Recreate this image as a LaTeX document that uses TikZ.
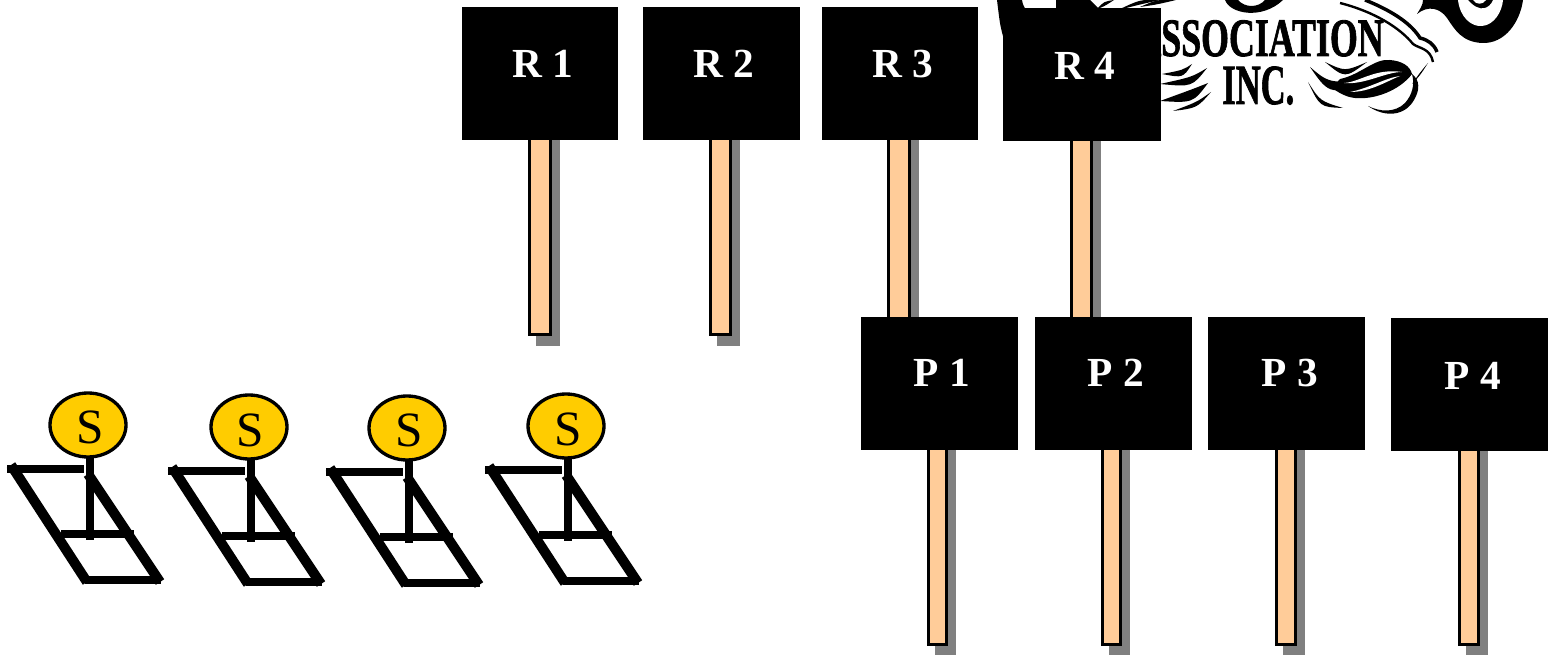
\documentclass[tikz,border=0pt]{standalone}
\usepackage{fontspec}
\setmainfont{Liberation Serif}
\newfontfamily\logofont[FakeBold=1.6]{Liberation Serif Bold}
\usetikzlibrary{shapes.geometric,calc}
\definecolor{stickfill}{HTML}{FFCC99}
\definecolor{sunfill}{HTML}{FFCC00}
\definecolor{shadowgray}{HTML}{808080}
\tikzset{
  signbox/.style={fill=black,draw=none,inner sep=0pt,outer sep=0pt,minimum width=117pt,minimum height=99.75pt},
  signtext/.style={text=white,inner sep=0pt,anchor=base,font=\fontsize{31pt}{31pt}\selectfont\bfseries},
  sun/.style={ellipse,draw=black,line width=2.5pt,fill=sunfill,inner sep=0pt,outer sep=0pt,minimum width=57pt,minimum height=48pt},
  suntext/.style={inner sep=0pt,anchor=base,font=\fontsize{37pt}{37pt}\selectfont},
  framebar/.style={line width=6.25pt,line cap=butt,draw=black},
  framediag/.style={line width=7.5pt,line cap=butt,draw=black},
  stem/.style={line width=5.75pt,draw=black},
  logotext/.style={inner sep=0pt,font=\logofont}
}
% swash: tapered curve from #1 to #3 bent through #2, half thickness #4
\newcommand{\swash}[4]{\fill[black] (#1) .. controls ($(#2)+(0,#4)$) .. (#3) .. controls ($(#2)-(0,#4)$) .. (#1) -- cycle;}
% stick: left, right, top, bottom
\newcommand{\stick}[4]{%
  \fill[shadowgray] (#1+8,#3) rectangle (#2+8,#4+10);
  \draw[black,fill=stickfill,line width=2.6pt] (#1+1.7,#3) rectangle (#2-1.7,#4-1.7);}
\begin{document}
\begin{tikzpicture}[x=0.75pt,y=-0.75pt]
\useasboundingbox (0,0) rectangle (1551,655);
\begin{scope}
\clip (0,0) rectangle (1551,655);
% --- logo fragment ---
\fill[black] (997,0) -- (1022,0) .. controls (1023,5) .. (1026,10) -- (1056,10) -- (1056,0) -- (1090,0) -- (1100,10) -- (1004,40) .. controls (1000,25) .. (997,0) -- cycle;
\swash{1097,9}{1104,4}{1114,0}{2.5}
\swash{1118,10}{1140,2}{1160,0}{2.5}
\swash{1140,7}{1157,2}{1176,0}{2.5}
\fill[black] (1225,0) .. controls (1230,14) and (1262,20) .. (1283,0) -- (1265,0) .. controls (1258,8) and (1245,8) .. (1238,0) -- cycle;
\node[logotext,anchor=base east] (assoc) at (1384,56) {\scalebox{.664}[1]{\fontsize{40.5pt}{40.5pt}\selectfont ASSOCIATION}};
\node[logotext,anchor=base west] (inc) at (1222,104) {\scalebox{.61}[1]{\fontsize{42.5pt}{42.5pt}\selectfont INC.}};
% swirls left of INC
\swash{1162,74}{1183,74}{1192,64}{4}
\swash{1160,84}{1192,82}{1207,68}{5}
\swash{1160,101}{1193,96}{1208,83}{7}
\swash{1173,111}{1197,105}{1211,92}{3}
% swirls right of INC and leaf
\swash{1325,62}{1345,75}{1367,62}{3.5}
\swash{1310,67}{1330,90}{1382,78}{6}
\swash{1308,82}{1320,104}{1343,108}{3}
\fill[black] (1340,79) .. controls (1360,75) and (1375,58) .. (1390,60) .. controls (1402,61) and (1410,66) .. (1412,74) .. controls (1400,90) and (1375,100) .. (1355,98) .. controls (1345,97) and (1338,92) .. (1332,88) -- cycle;
\fill[white] (1344,83) .. controls (1360,82) and (1375,68) .. (1402,72) .. controls (1385,72) and (1365,85) .. (1344,83) -- cycle;
\fill[white] (1350,92) .. controls (1370,92) and (1385,82) .. (1400,76) .. controls (1385,78) and (1370,88) .. (1350,92) -- cycle;
\swash{1412,84}{1420,74}{1428,63}{1.5}
\fill[black] (1368,106) .. controls (1385,118) and (1405,116) .. (1414,100) .. controls (1420,90) and (1420,80) .. (1412,74) .. controls (1415,85) and (1412,95) .. (1405,103) .. controls (1395,113) and (1380,112) .. (1368,106) -- cycle;
% arc and flourish on the right
\draw[black,line width=2.6pt] (1365,0) .. controls (1395,12) and (1412,25) .. (1420,38) .. controls (1428,40) and (1434,44) .. (1437,52);
\draw[black,line width=1.8pt] (1340,3) .. controls (1375,12) and (1400,28) .. (1413,44) .. controls (1420,49) and (1430,48) .. (1433,62);
% spiral
\fill[black] (1417,14) .. controls (1420,9) and (1423,5) .. (1423,0) -- (1523,0) .. controls (1520,22) and (1505,44) .. (1482,43) .. controls (1462,42) and (1455,30) .. (1447,18) .. controls (1440,8) and (1428,5) .. (1417,14) -- cycle;
\fill[white] (1458,0) .. controls (1460,18) and (1472,27) .. (1482,26) .. controls (1494,25) and (1502,12) .. (1503,0) -- (1493,0) .. controls (1490,8) and (1480,14) .. (1468,0) -- cycle;
\fill[white] (1473,0) .. controls (1476,5) and (1483,5) .. (1486,0) -- cycle;
% --- sticks of the R signs ---
\stick{528}{552}{130}{336}
\stick{709}{732}{130}{336}
\stick{887}{911}{130}{336}
\stick{1070}{1093}{130}{336}
% --- sticks of the P signs ---
\stick{927}{948}{440}{646}
\stick{1101}{1122}{440}{646}
\stick{1275}{1297}{440}{646}
\stick{1458}{1480}{440}{646}
% --- signs ---
\node[signbox] (r1) at (540,73.5) {};
\node[signbox,minimum width=117.75pt] (r2) at (721.5,73.5) {};
\node[signbox] (r3) at (900,73.5) {};
\node[signbox,minimum width=118.5pt] (r4) at (1082,74.5) {};
\node[signbox,minimum width=117.75pt] (p1) at (939.5,383.5) {};
\node[signbox,minimum width=117.75pt] (p2) at (1113.5,383.5) {};
\node[signbox,minimum width=117.75pt] (p3) at (1286.5,383.5) {};
\node[signbox,minimum width=117.75pt] (p4) at (1469.5,384.5) {};
\node[signtext] (r1t) at (543,78) {R 1};
\node[signtext] (r2t) at (724,78) {R 2};
\node[signtext] (r3t) at (903,78) {R 3};
\node[signtext] (r4t) at (1085,80) {R 4};
\node[signtext] (p1t) at (942,387) {P 1};
\node[signtext] (p2t) at (1116,387) {P 2};
\node[signtext] (p3t) at (1290,387) {P 3};
\node[signtext] (p4t) at (1473,389) {P 4};
% --- solar panels ---
\foreach \n/\dx/\dy/\tx/\ty in {1/0/0/90/443, 2/161/2/250/446, 3/319/3/409/446, 4/478/1/568/445}{
  \begin{scope}[shift={(\dx,\dy)}]
    \coordinate (foot\n) at (90,540);
    \coordinate (midl\n) at (61,534);
    \coordinate (midr\n) at (134,534);
    \draw[framebar] (7,469) -- (84,469);
    \draw[framediag] (11,465) -- (87,582);
    \draw[framebar] (85,580) -- (161,580);
    \draw[framediag] (88,474) -- (160,582);
    \draw[framebar] (midl\n) -- (midr\n);
    \node[sun] (s\n) at (88,425) {};
    \draw[stem] (foot\n |- s\n.south) -- (foot\n);
  \end{scope}
  \node[suntext] (st\n) at (\tx,\ty) {S};
}
\end{scope}
\end{tikzpicture}
\end{document}
